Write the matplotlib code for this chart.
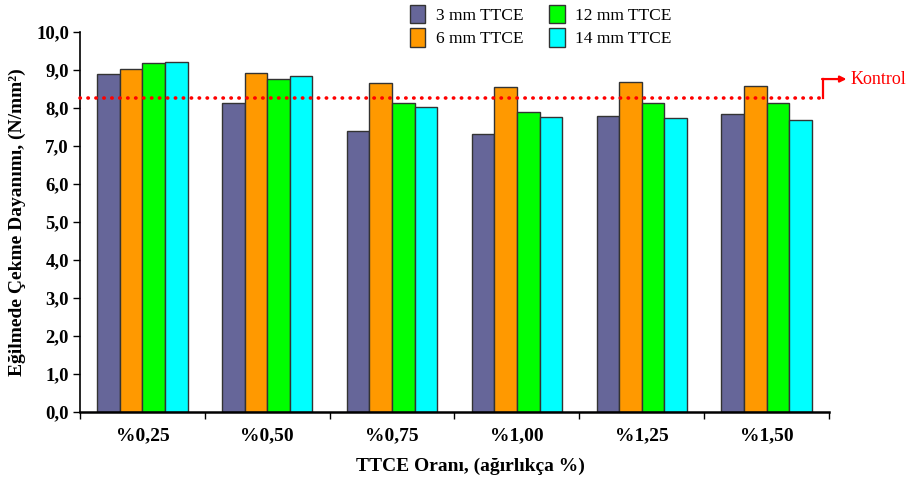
import matplotlib
matplotlib.use('Agg')
import matplotlib.pyplot as plt
import numpy as np

# ── Data ───────────────────────────────────────────────────────────────
categories = ["%0,25", "%0,50", "%0,75", "%1,00", "%1,25", "%1,50"]
series_names = ["3 mm TTCE", "6 mm TTCE", "12 mm TTCE", "14 mm TTCE"]
ttce_3mm  = [8.89, 8.12, 7.40, 7.32, 7.80, 7.84]
ttce_6mm  = [9.03, 8.93, 8.65, 8.56, 8.68, 8.59]
ttce_12mm = [9.18, 8.76, 8.12, 7.90, 8.12, 8.12]
ttce_14mm = [9.22, 8.85, 8.02, 7.76, 7.73, 7.68]
kontrol = 8.27
yticks = np.arange(0, 10.01, 1.0)

colors = ["#666699", "#FF9900", "#00FF00", "#00FFFF"]

plt.rcParams.update({
    'font.family': 'Liberation Serif',
    'font.size': 12,
})

fig = plt.figure(figsize=(9.09, 4.84), dpi=100)
ax = fig.add_axes([0.088, 0.149, 0.824, 0.785])

x = np.arange(len(categories))
w = 0.181
all_series = [ttce_3mm, ttce_6mm, ttce_12mm, ttce_14mm]
handles = []
for i, (vals, name, c) in enumerate(zip(all_series, series_names, colors)):
    b = ax.bar(x + (i - 1.5) * w, vals, w, color=c, edgecolor="#333333",
               linewidth=1.0, label=name, zorder=2)
    handles.append(b)

ax.set_xlim(-0.5, len(categories) - 0.5)
ax.set_ylim(0, 10)
ax.set_yticks(yticks)
ax.set_yticklabels([f"{v:.1f}".replace(".", ",") for v in yticks],
                   fontweight='bold', fontsize=13.5)
ax.set_xticks(x)
ax.set_xticklabels(categories, fontweight='bold', fontsize=14)
ax.tick_params(axis='x', length=0, pad=11)
ax.set_xticks(np.arange(-0.5, len(categories), 1.0), minor=True)
ax.tick_params(axis='x', which='minor', length=5, width=1, direction='out')
ax.tick_params(axis='y', length=5, width=1, direction='out', pad=3)

ax.spines['top'].set_visible(False)
ax.spines['right'].set_visible(False)
ax.spines['left'].set_linewidth(1.2)
ax.spines['bottom'].set_linewidth(1.8)

# Kontrol reference line
x_end = 5.45
ax.plot([-0.5, x_end], [kontrol, kontrol], color="red", linewidth=2.6,
        linestyle=(0, (0.1, 2.1)), dash_capstyle='round', zorder=3, clip_on=False)
ax.plot([x_end, x_end], [kontrol, kontrol + 0.49], color="red", linewidth=1.6,
        clip_on=False, zorder=3)
ax.annotate("", xy=(5.64, kontrol + 0.49), xytext=(x_end - 0.006, kontrol + 0.49),
            arrowprops=dict(arrowstyle="-|>", color="red", lw=1.6,
                            mutation_scale=9, shrinkA=0, shrinkB=0),
            annotation_clip=False)
ax.text(5.675, kontrol + 0.49, "Kontrol", color="red", fontsize=13,
        va='center', ha='left', clip_on=False)

ax.set_ylabel("Eğilmede Çekme Dayanımı, (N/mm²)", fontweight='bold', fontsize=14,
              labelpad=7)
fig.text(470 / 909, 1 - 466 / 484, "TTCE Oranı, (ağırlıkça %)", fontweight='bold',
         fontsize=14, ha='center', va='center')

fig.legend(handles=handles, labels=series_names, ncol=2, loc='upper left',
           bbox_to_anchor=(394 / 909, 1.022), frameon=False, fontsize=12.5,
           handlelength=0.9, handleheight=1.25, handletextpad=0.6,
           columnspacing=1.5, labelspacing=0.25)

fig.savefig("out.png", dpi=100)
